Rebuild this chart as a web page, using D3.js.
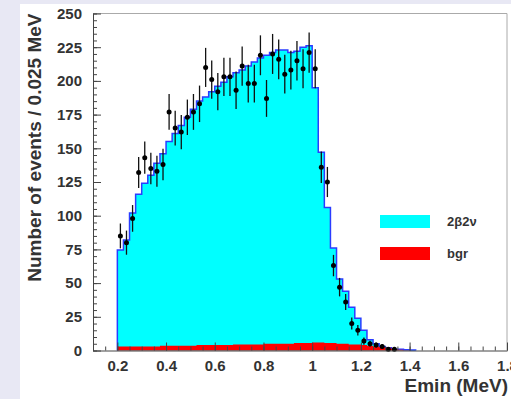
<!DOCTYPE html>
<html>
<head>
<meta charset="utf-8">
<script src="https://cdnjs.cloudflare.com/ajax/libs/d3/7.8.5/d3.min.js"></script>
<style>
  body { margin: 0; background: #e8e8f4; }
  svg { display: block; }
  text { font-family: "Liberation Sans", Arial, sans-serif; }
  .axis .tick text { font-weight: bold; font-size: 15px; fill: #333; }
  .axis path, .axis line { stroke: #444; }
</style>
</head>
<body>
<script>
// Histogram bins (MeV)
var binStart = 0.2;
var binWidth = 0.025;

// Fitted total (2b2v + bgr) per bin
var fitCounts = [74.5, 82, 102, 116, 124, 130, 139, 146, 155, 161,
                 167, 173, 179, 185, 188, 192, 196, 199, 203, 206,
                 208, 211, 214, 217, 219, 221, 223, 223, 221, 222,
                 225, 226, 195, 147, 106, 76, 53, 44, 32, 24,
                 15, 8, 5, 3, 2, 1, 1, 0.5, 0.3];

// Background per bin
var bgrCounts = [3, 3, 3, 3, 3, 3, 3, 3.5, 3.5, 3.5,
                 3.5, 3.5, 3.5, 4, 4, 4, 4, 4, 4, 4.5,
                 4.5, 4.5, 4.5, 4.5, 5, 5, 5, 5, 5, 5.5,
                 5.5, 5.5, 6, 6, 5.5, 5.5, 5, 5, 4.5, 4.5,
                 4, 3.5, 3, 2.5, 2, 1.2, 0.6, 0.2, 0];

// Measured events per bin
var dataCounts = [85, 80, 98, 132, 143, 135, 133, 138, 177, 165,
                  162, 173, 177, 183, 210, 201, 192, 203, 203, 193,
                  211, 198, 198, 219, 187, 220, 216, 205, 208, 215,
                  209, 221, 209, 136, 125, 63, 47, 36, 20, 15,
                  7, 5, 4, 3, 1, 1];

var yTickValues = [0, 25, 50, 75, 100, 125, 150, 175, 200, 225, 250];
var xTickValues = [0.2, 0.4, 0.6, 0.8, 1.0, 1.2, 1.4, 1.6, 1.8];
var legendLabels = ["2\u03b22\u03bd", "bgr"];
var legendColors = ["#00ffff", "#ff0000"];

var svgWidth = 511;
var svgHeight = 399;
var frame = { left: 93, right: 507, top: 13.5, bottom: 350.5 };

var svg = d3.select("body")
  .append("svg")
  .attr("width", svgWidth)
  .attr("height", svgHeight);

// white canvas pad
svg.append("rect")
  .attr("x", 20)
  .attr("y", 4)
  .attr("width", svgWidth - 20)
  .attr("height", svgHeight - 4)
  .attr("fill", "#ffffff");

var xScale = d3.scaleLinear()
  .domain([0.1, 1.8])
  .range([frame.left, frame.right]);

var yScale = d3.scaleLinear()
  .domain([0, 250])
  .range([frame.bottom, frame.top]);

// frame (top and right)
svg.append("path")
  .attr("d", `M${frame.left},${frame.top}H${frame.right}V${frame.bottom}`)
  .attr("fill", "none")
  .attr("stroke", "#aaa")
  .attr("stroke-width", 1);

// step points for a histogram
function stepPoints(counts) {
  var pts = counts.map(function(v, i) {
    return { e: binStart + i * binWidth, v: v };
  });
  pts.push({ e: binStart + counts.length * binWidth, v: counts[counts.length - 1] });
  return pts;
}

var area = d3.area()
  .curve(d3.curveStepAfter)
  .x(d => xScale(d.e))
  .y0(yScale(0))
  .y1(d => yScale(d.v));

var line = d3.line()
  .curve(d3.curveStepAfter)
  .x(d => xScale(d.e))
  .y(d => yScale(d.v));

var fitPts = stepPoints(fitCounts);
var bgrPts = stepPoints(bgrCounts);

svg.append("path")
  .attr("d", area(fitPts))
  .attr("fill", legendColors[0]);

var outline = [{ e: binStart, v: 0 }].concat(fitPts);
outline.push({ e: fitPts[fitPts.length - 1].e, v: 0 });
svg.append("path")
  .attr("d", line(outline))
  .attr("fill", "none")
  .attr("stroke", "#2a3cff")
  .attr("stroke-width", 1.5);

svg.append("path")
  .attr("d", area(bgrPts))
  .attr("fill", legendColors[1]);

// data points with sqrt(N) errors
var points = svg.append("g")
  .selectAll("g")
  .data(dataCounts)
  .enter()
  .append("g");

points.append("line")
  .attr("x1", (d, i) => xScale(binStart + (i + 0.5) * binWidth))
  .attr("x2", (d, i) => xScale(binStart + (i + 0.5) * binWidth))
  .attr("y1", d => yScale(d + Math.sqrt(d)))
  .attr("y2", d => yScale(Math.max(0, d - Math.sqrt(d))))
  .attr("stroke", "#111")
  .attr("stroke-width", 1.3);

points.append("circle")
  .attr("cx", (d, i) => xScale(binStart + (i + 0.5) * binWidth))
  .attr("cy", d => yScale(d))
  .attr("r", 2.5)
  .attr("fill", "#000");

// axes
var leftAxis = d3.axisLeft(yScale)
  .tickValues(yTickValues)
  .tickSize(-8)
  .tickSizeOuter(0)
  .tickPadding(11);

var leftMinor = d3.axisLeft(yScale)
  .ticks(50)
  .tickSize(-4)
  .tickFormat("");

var bottomAxis = d3.axisBottom(xScale)
  .tickValues(xTickValues)
  .tickSize(-8)
  .tickSizeOuter(0)
  .tickPadding(10)
  .tickFormat(d3.format("~g"));

var bottomMinor = d3.axisBottom(xScale)
  .ticks(34)
  .tickSize(-4)
  .tickFormat("");

svg.append("g")
  .attr("class", "axis")
  .attr("transform", `translate(${frame.left},0)`)
  .call(leftMinor)
  .call(g => g.select(".domain").remove());

svg.append("g")
  .attr("class", "axis")
  .attr("transform", `translate(${frame.left},0)`)
  .call(leftAxis);

svg.append("g")
  .attr("class", "axis")
  .attr("transform", `translate(0,${frame.bottom})`)
  .call(bottomMinor)
  .call(g => g.select(".domain").remove());

svg.append("g")
  .attr("class", "axis")
  .attr("transform", `translate(0,${frame.bottom})`)
  .call(bottomAxis);

// axis titles
svg.append("text")
  .attr("transform", `translate(41, ${frame.top}) rotate(-90)`)
  .attr("text-anchor", "end")
  .style("font-size", "19px")
  .style("font-weight", "bold")
  .attr("fill", "#333")
  .text("Number of events / 0.025 MeV");

svg.append("text")
  .attr("x", frame.right + 1)
  .attr("y", 392)
  .attr("text-anchor", "end")
  .style("font-size", "19px")
  .style("font-weight", "bold")
  .attr("fill", "#333")
  .text("Emin (MeV)");

// legend
var legend = svg.append("g")
  .selectAll("g")
  .data(legendLabels)
  .enter()
  .append("g")
  .attr("transform", (d, i) => `translate(380, ${215 + i * 32})`);

legend.append("rect")
  .attr("width", 50)
  .attr("height", 13)
  .attr("fill", (d, i) => legendColors[i]);

legend.append("text")
  .attr("x", 67)
  .attr("y", 11)
  .style("font-size", "13px")
  .style("font-weight", "bold")
  .attr("fill", "#333")
  .text(d => d);
</script>
</body>
</html>
